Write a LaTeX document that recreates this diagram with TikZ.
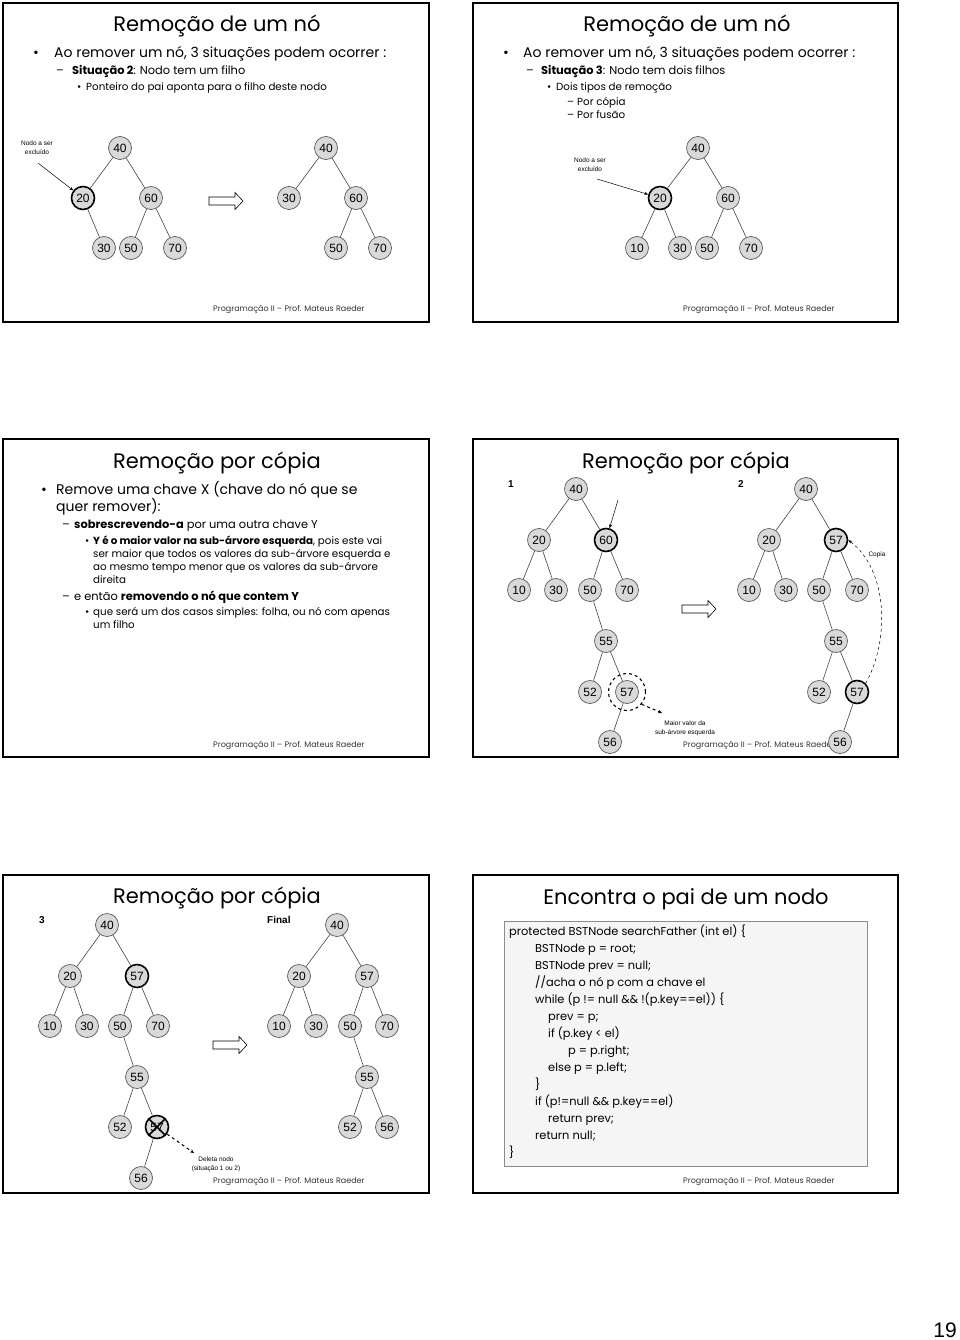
\documentclass[tikz,border=0pt]{standalone}
\usepackage{fontspec}
\setmainfont{Poppins}
\newfontfamily\arialf{Liberation Sans}
\usetikzlibrary{arrows.meta}

\tikzset{
  nd/.style={circle,draw=black!65,fill=black!15,line width=0.7pt,minimum size=23pt,inner sep=0pt,font=\arialf\fontsize{12}{12}\selectfont},
  sel/.style={draw=black,line width=1.6pt},
  ed/.style={black!75,line width=0.6pt},
  frame/.style={line width=1.8pt},
  ttl/.style={anchor=base,inner sep=0pt,font=\fontsize{21}{24}\selectfont},
  lone/.style={anchor=base west,inner sep=0pt,font=\fontsize{14}{16}\selectfont},
  ltwo/.style={anchor=base west,inner sep=0pt,font=\fontsize{11.4}{13}\selectfont},
  lthree/.style={anchor=base west,inner sep=0pt,font=\fontsize{10.3}{11}\selectfont},
  foot/.style={anchor=base west,inner sep=0pt,font=\fontsize{8}{9}\selectfont,black!80},
  note/.style={align=center,inner sep=0pt,font=\arialf\fontsize{6.5}{9}\selectfont},
  tag/.style={anchor=base west,inner sep=0pt,font=\arialf\bfseries\fontsize{10}{11}\selectfont},
  code/.style={anchor=base west,inner sep=0pt,font=\fontsize{11.4}{12}\selectfont},
  arr/.style={-{Stealth[length=4pt,width=3pt]},line width=0.5pt},
  darr/.style={-{Stealth[length=4pt,width=3.5pt]},dashed,line width=1pt},
  hollow/.pic={\draw[line width=0.6pt,fill=white] (-17,-4)--(9,-4)--(9,-8.5)--(17,0)--(9,8.5)--(9,4)--(-17,4)--cycle;}
}

\begin{document}
\begin{tikzpicture}[x=1pt,y=-1pt]
\useasboundingbox (0,0) rectangle (960,1340);

% slide frames
\draw[frame] (3,3) rectangle (429,322);
\draw[frame] (473,3) rectangle (898,322);
\draw[frame] (3,439) rectangle (429,757);
\draw[frame] (473,439) rectangle (898,757);
\draw[frame] (3,875) rectangle (429,1193);
\draw[frame] (473,875) rectangle (898,1193);

% slide 1
\node[ttl] (t1) at (217,32) {Remoção de um nó};
\node[lone] (u1) at (33,58) {•};
\node[lone] (x1) at (54,58) {Ao remover um nó, 3 situações podem ocorrer :};
\node[ltwo] (u2) at (56,75) {–};
\node[ltwo] (x2) at (72,75) {\bfseries Situação 2\mdseries: Nodo tem um filho};
\node[lthree] (u3) at (77,90.5) {•};
\node[lthree] (x3) at (86,90.5) {Ponteiro do pai aponta para o filho deste nodo};
\node[note] (n1) at (37,148) {Nodo a ser\\excluído};
\node[nd] (a40) at (120,148) {40};
\node[nd,sel] (a20) at (83,198) {20};
\node[nd] (a60) at (151,198) {60};
\node[nd] (a30) at (104,248) {30};
\node[nd] (a50) at (131,248) {50};
\node[nd] (a70) at (175,248) {70};
\draw[ed] (a40)--(a20) (a40)--(a60) (a20)--(a30) (a60)--(a50) (a60)--(a70);
\coordinate (k1) at (38,163);
\draw[arr] (k1) -- (a20);
\pic at (226,201) {hollow};
\node[nd] (b40) at (326,148) {40};
\node[nd] (b30) at (289,198) {30};
\node[nd] (b60) at (356,198) {60};
\node[nd] (b50) at (336,248) {50};
\node[nd] (b70) at (380,248) {70};
\draw[ed] (b40)--(b30) (b40)--(b60) (b60)--(b50) (b60)--(b70);
\node[foot] (f1) at (213,311) {Programação II – Prof. Mateus Raeder};

% slide 2
\node[ttl] (t2) at (687,32) {Remoção de um nó};
\node[lone] (u4) at (503,58) {•};
\node[lone] (x4) at (523,58) {Ao remover um nó, 3 situações podem ocorrer :};
\node[ltwo] (u5) at (526,75) {–};
\node[ltwo] (x5) at (541,75) {\bfseries Situação 3\mdseries: Nodo tem dois filhos};
\node[lthree] (u6) at (547,90.5) {•};
\node[lthree] (x6) at (556,90.5) {Dois tipos de remoção};
\node[lthree] (u7) at (567,105.5) {–};
\node[lthree] (x7) at (577,105.5) {Por cópia};
\node[lthree] (u8) at (567,118.5) {–};
\node[lthree] (x8) at (577,118.5) {Por fusão};
\node[note] (n2) at (590,165) {Nodo a ser\\excluído};
\node[nd] (s40) at (698,148) {40};
\node[nd,sel] (s20) at (660,198) {20};
\node[nd] (s60) at (728,198) {60};
\node[nd] (s10) at (637,248) {10};
\node[nd] (s30) at (680,248) {30};
\node[nd] (s50) at (707,248) {50};
\node[nd] (s70) at (751,248) {70};
\draw[ed] (s40)--(s20) (s40)--(s60) (s20)--(s10) (s20)--(s30) (s60)--(s50) (s60)--(s70);
\coordinate (k2) at (597,179);
\draw[arr] (k2) -- (s20);
\node[foot] (f2) at (683,311) {Programação II – Prof. Mateus Raeder};

% slide 3
\node[ttl] (t3) at (217,468) {Remoção por cópia};
\node[lone] (u9) at (41,494) {•};
\node[lone] (x9) at (56,494) {Remove uma chave X (chave do nó que se};
\node[lone] (x10) at (56,511) {quer remover):};
\node[ltwo] (u11) at (62,528) {–};
\node[ltwo] (x11) at (74,528) {\bfseries sobrescrevendo-a\mdseries{} por uma outra chave Y};
\node[lthree] (u12) at (85,544.5) {•};
\node[lthree] (x12) at (93,544.5) {\bfseries Y é o maior valor na sub-árvore esquerda\mdseries, pois este vai};
\node[lthree] (x13) at (93,557.5) {ser maior que todos os valores da sub-árvore esquerda e};
\node[lthree] (x14) at (93,570.5) {ao mesmo tempo menor que os valores da sub-árvore};
\node[lthree] (x15) at (93,583.5) {direita};
\node[ltwo] (u16) at (62,600) {–};
\node[ltwo] (x16) at (74,600) {e então \bfseries removendo o nó que contem Y};
\node[lthree] (u17) at (85,615.5) {•};
\node[lthree] (x17) at (93,615.5) {que será um dos casos simples: folha, ou nó com apenas};
\node[lthree] (x18) at (93,628.5) {um filho};
\node[foot] (f3) at (213,747) {Programação II – Prof. Mateus Raeder};

% slide 4
\node[ttl] (t4) at (686,468) {Remoção por cópia};
\node[tag] (g1) at (508,487) {1};
\node[tag] (g2) at (738,487) {2};
\node[foot] (f4) at (683,747) {Programação II – Prof. Mateus Raeder};
\node[nd] (p40) at (576,489) {40};
\node[nd] (p20) at (539,540) {20};
\node[nd,sel] (p60) at (606,540) {60};
\node[nd] (p10) at (519,590) {10};
\node[nd] (p30) at (556,590) {30};
\node[nd] (p50) at (590,590) {50};
\node[nd] (p70) at (627,590) {70};
\node[nd] (p55) at (606,641) {55};
\node[nd] (p52) at (590,692) {52};
\node[nd] (p57) at (627,692) {57};
\node[nd] (p56) at (610,742) {56};
\draw[ed] (p40)--(p20) (p40)--(p60) (p20)--(p10) (p20)--(p30) (p60)--(p50) (p60)--(p70)
  (p50)--(p55) (p55)--(p52) (p55)--(p57) (p57)--(p56);
\coordinate (k3) at (618,500);
\draw[arr] (k3) -- (p60);
\node[circle,draw,dashed,line width=1.1pt,minimum size=37pt] (dc) at (627,692) {};
\node[note] (n3) at (685,728) {Maior valor da\\sub-árvore esquerda};
\coordinate (k4) at (662,713);
\draw[darr] (dc.-40) -- (k4);
\pic at (699,609) {hollow};
\node[nd] (q40) at (806,489) {40};
\node[nd] (q20) at (769,540) {20};
\node[nd,sel] (q57a) at (836,540) {57};
\node[nd] (q10) at (749,590) {10};
\node[nd] (q30) at (786,590) {30};
\node[nd] (q50) at (819,590) {50};
\node[nd] (q70) at (857,590) {70};
\node[nd] (q55) at (836,641) {55};
\node[nd] (q52) at (819,692) {52};
\node[nd,sel] (q57b) at (857,692) {57};
\node[nd] (q56) at (840,742) {56};
\draw[ed] (q40)--(q20) (q40)--(q57a) (q20)--(q10) (q20)--(q30) (q57a)--(q50) (q57a)--(q70)
  (q50)--(q55) (q55)--(q52) (q55)--(q57b) (q57b)--(q56);
\node[note] (n4) at (877,555) {Copia};
\draw[-{Stealth[length=4pt,width=3pt]},dashed,line width=0.5pt] (q57b.north east) .. controls (890,640) and (888,570) .. (q57a.east);

% slide 5
\node[ttl] (t5) at (217,903) {Remoção por cópia};
\node[tag] (g3) at (39,923) {3};
\node[tag] (g4) at (267,923) {Final};
\node[foot] (f5) at (213,1183) {Programação II – Prof. Mateus Raeder};
\node[nd] (r40) at (107,925) {40};
\node[nd] (r20) at (70,976) {20};
\node[nd,sel] (r57a) at (137,976) {57};
\node[nd] (r10) at (50,1026) {10};
\node[nd] (r30) at (87,1026) {30};
\node[nd] (r50) at (120,1026) {50};
\node[nd] (r70) at (158,1026) {70};
\node[nd] (r55) at (137,1077) {55};
\node[nd] (r52) at (120,1127) {52};
\node[nd,sel] (r57b) at (157,1127) {57};
\node[nd] (r56) at (141,1178) {56};
\draw[ed] (r40)--(r20) (r40)--(r57a) (r20)--(r10) (r20)--(r30) (r57a)--(r50) (r57a)--(r70)
  (r50)--(r55) (r55)--(r52) (r55)--(r57b) (r57b)--(r56);
\draw[line width=1.6pt] (r57b.north west) -- (r57b.south east) (r57b.north east) -- (r57b.south west);
\node[note] (n5) at (216,1164.5) {Deleta nodo\\(situação 1 ou 2)};
\coordinate (k5) at (194,1153);
\draw[darr] (r57b.-35) -- (k5);
\pic at (230,1045) {hollow};
\node[nd] (e40) at (337,925) {40};
\node[nd] (e20) at (299,976) {20};
\node[nd] (e57) at (367,976) {57};
\node[nd] (e10) at (279,1026) {10};
\node[nd] (e30) at (316,1026) {30};
\node[nd] (e50) at (350,1026) {50};
\node[nd] (e70) at (387,1026) {70};
\node[nd] (e55) at (367,1077) {55};
\node[nd] (e52) at (350,1127) {52};
\node[nd] (e56) at (387,1127) {56};
\draw[ed] (e40)--(e20) (e40)--(e57) (e20)--(e10) (e20)--(e30) (e57)--(e50) (e57)--(e70)
  (e50)--(e55) (e55)--(e52) (e55)--(e56);

% slide 6
\node[ttl] (t6) at (686,904) {Encontra o pai de um nodo};
\draw[draw=black!45,fill=black!4,line width=0.8pt] (504,921) rectangle (867,1166);
\node[code] (c1) at (509,935) {protected BSTNode searchFather (int el) \{};
\node[code] (c2) at (535,952) {BSTNode p = root;};
\node[code] (c3) at (535,969) {BSTNode prev = null;};
\node[code] (c4) at (535,986) {//acha o nó p com a chave el};
\node[code] (c5) at (535,1003) {while (p != null \&\& !(p.key==el)) \{};
\node[code] (c6) at (548,1020) {prev = p;};
\node[code] (c7) at (548,1037) {if (p.key < el)};
\node[code] (c8) at (568,1054) {p = p.right;};
\node[code] (c9) at (548,1071) {else p = p.left;};
\node[code] (c10) at (535,1088) {\}};
\node[code] (c11) at (535,1105) {if (p!=null \&\& p.key==el)};
\node[code] (c12) at (548,1122) {return prev;};
\node[code] (c13) at (535,1139) {return null;};
\node[code] (c14) at (509,1156) {\}};
\node[foot] (f6) at (683,1183) {Programação II – Prof. Mateus Raeder};

\node[anchor=base east,inner sep=0pt,font=\arialf\fontsize{21}{21}\selectfont] (pg) at (957,1337) {19};
\end{tikzpicture}
\end{document}
